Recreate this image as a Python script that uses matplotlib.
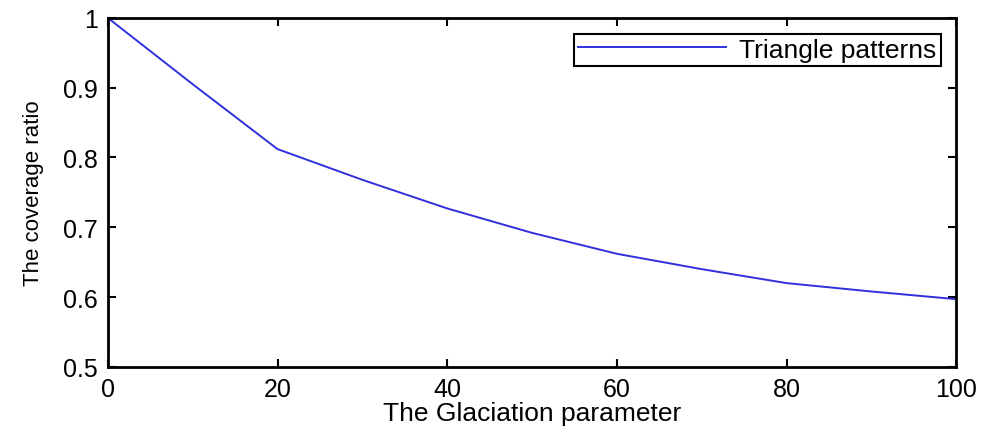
import matplotlib
matplotlib.use("Agg")
import matplotlib.pyplot as plt

glaciation = [0, 10, 20, 30, 40, 50, 60, 70, 80, 90, 100]
coverage = [1.0, 0.905, 0.812, 0.768, 0.727, 0.692, 0.662, 0.640, 0.620, 0.608, 0.597]
xticks = [0, 20, 40, 60, 80, 100]
yticks = [0.5, 0.6, 0.7, 0.8, 0.9, 1.0]
ytick_labels = ["0.5", "0.6", "0.7", "0.8", "0.9", "1"]

plt.rcParams['font.family'] = ['Liberation Sans', 'DejaVu Sans']

fig = plt.figure(figsize=(9.89, 4.39), dpi=100)
ax = fig.add_axes([0.109, 0.162, 0.858, 0.795])
ax.plot(glaciation, coverage, color='#3030dd', linewidth=1.4, label='Triangle patterns')
ax.set_xlim(0, 100)
ax.set_ylim(0.5, 1.0)
ax.set_xticks(xticks)
ax.set_yticks(yticks)
ax.set_yticklabels(ytick_labels)
ax.tick_params(direction='in', length=6, width=1.5, labelsize=18, top=True, right=True, pad=7)
for s in ax.spines.values():
    s.set_linewidth(2)
ax.set_xlabel('The Glaciation parameter', fontsize=19, labelpad=0)
ax.set_ylabel('The coverage ratio', fontsize=16, labelpad=14)
leg = ax.legend(loc='upper right', fontsize=19, fancybox=False, framealpha=1,
                edgecolor='black', handlelength=5.6, handletextpad=0.5,
                borderpad=0.15, borderaxespad=0.6)
leg.get_frame().set_linewidth(1.5)
fig.savefig('out.png', dpi=100)
